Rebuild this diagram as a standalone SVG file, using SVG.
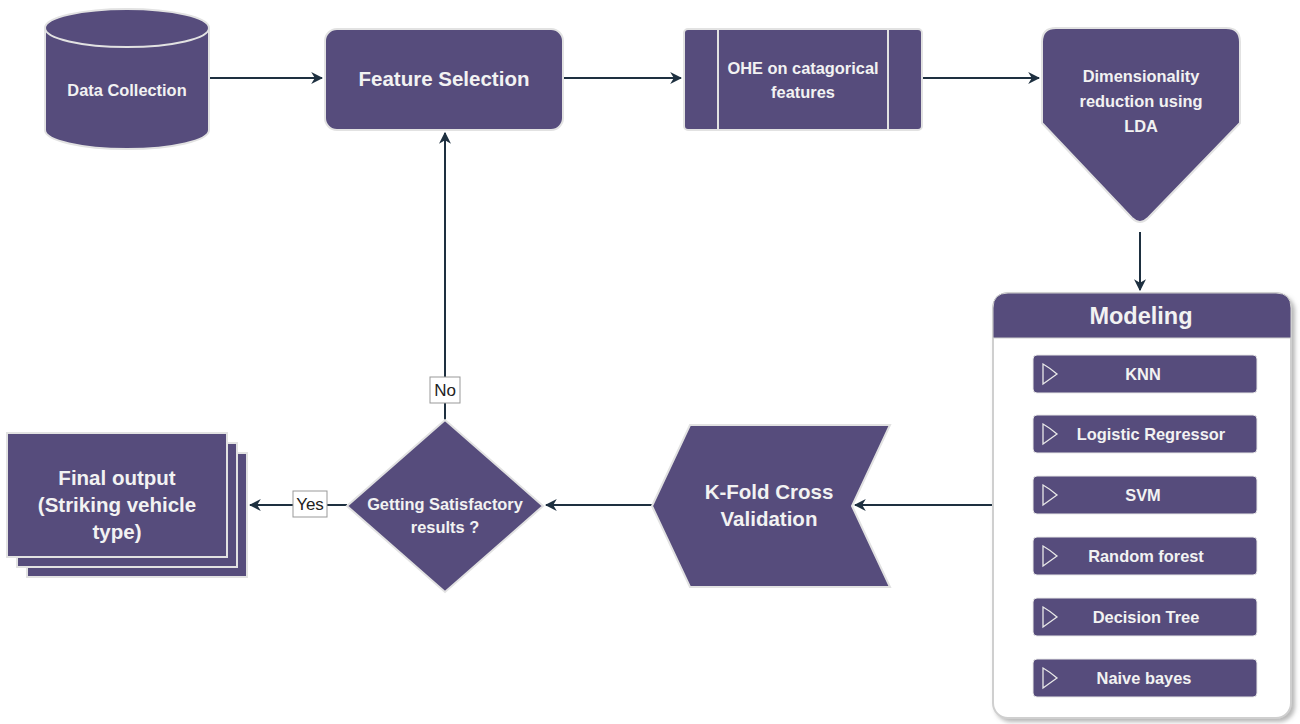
<svg xmlns="http://www.w3.org/2000/svg" width="1300" height="724" viewBox="0 0 1300 724">
<defs>
<style>
.n{fill:#564c7c;stroke:#e2e2e2;stroke-width:2}
.t{fill:#f2f2f2;font-family:"Liberation Sans",Arial,sans-serif;font-weight:bold;text-anchor:middle}
.s{font-size:16.4px}
.m{font-size:20.5px}
.c{stroke:#1e3040;stroke-width:2;fill:none}
.lbl{fill:#222;font-family:"Liberation Sans",Arial,sans-serif;font-size:17px;text-anchor:middle}
.item{fill:#564c7c;stroke:#e8e8e8;stroke-width:1}
.ic{fill:none;stroke:#e8e8e8;stroke-width:1.3}
</style>
<marker id="ah2" viewBox="0 0 10 10" refX="9" refY="5" markerWidth="12" markerHeight="12" orient="auto" markerUnits="userSpaceOnUse">
<path d="M0,0 L10,5 L0,10 L3,5 Z" fill="#1e3040"/>
</marker>
<filter id="sh" x="-10%" y="-10%" width="120%" height="120%">
<feDropShadow dx="3" dy="3" stdDeviation="2" flood-color="#888" flood-opacity="0.6"/>
</filter>
</defs>
<rect width="1300" height="724" fill="#ffffff"/>

<g id="connectors">
<line class="c" x1="210" y1="78" x2="322" y2="78" marker-end="url(#ah2)"/>
<line class="c" x1="564" y1="78" x2="681" y2="78" marker-end="url(#ah2)"/>
<line class="c" x1="923" y1="78" x2="1039" y2="78" marker-end="url(#ah2)"/>
<line class="c" x1="1140" y1="232" x2="1140" y2="290" marker-end="url(#ah2)"/>
<line class="c" x1="993" y1="505" x2="855" y2="505" marker-end="url(#ah2)"/>
<line class="c" x1="652" y1="505" x2="546" y2="505" marker-end="url(#ah2)"/>
<line class="c" x1="445" y1="420" x2="445" y2="133" marker-end="url(#ah2)"/>
<line class="c" x1="347" y1="505" x2="250" y2="505" marker-end="url(#ah2)"/>
<rect x="430" y="377" width="30" height="26" fill="#fff" stroke="#999" stroke-width="1"/>
<text class="lbl" x="445" y="396">No</text>
<rect x="293" y="491" width="34" height="26" fill="#fff" stroke="#999" stroke-width="1"/>
<text class="lbl" x="310" y="510">Yes</text>
</g>

<g id="data-collection">
<path class="n" d="M45,28 A82,19 0 0 1 209,28 L209,130 A82,19 0 0 1 45,130 Z"/>
<path d="M45,28 A82,19 0 0 0 209,28" fill="none" stroke="#e2e2e2" stroke-width="2"/>
<text class="t s" x="127" y="96">Data Collection</text>
</g>

<g id="feature-selection">
<rect class="n" x="325" y="29" width="238" height="101" rx="12"/>
<text class="t m" x="444" y="86">Feature Selection</text>
</g>

<g id="ohe">
<rect class="n" x="684" y="29" width="238" height="101" rx="4"/>
<line x1="718" y1="30" x2="718" y2="129" stroke="#e2e2e2" stroke-width="2"/>
<line x1="888" y1="30" x2="888" y2="129" stroke="#e2e2e2" stroke-width="2"/>
<text class="t s" x="803" y="74">OHE on catagorical</text>
<text class="t s" x="803" y="98">features</text>
</g>

<g id="lda">
<path class="n" d="M1056,28 L1226,28 Q1240,28 1240,42 L1240,123 L1148,218 Q1140,226 1132,218 L1042,123 L1042,42 Q1042,28 1056,28 Z"/>
<text class="t s" x="1141" y="82">Dimensionality</text>
<text class="t s" x="1141" y="107">reduction using</text>
<text class="t s" x="1141" y="132">LDA</text>
</g>

<g id="modeling">
<rect x="993" y="293" width="298" height="425" rx="15" fill="#fff" stroke="#cfcfcf" stroke-width="2" filter="url(#sh)"/>
<path d="M1008,293 L1276,293 Q1291,293 1291,308 L1291,338 L993,338 L993,308 Q993,293 1008,293 Z" fill="#564c7c" stroke="#cfcfcf" stroke-width="1"/>
<text class="t" x="1141" y="324" font-size="23.5px">Modeling</text>
<g id="knn">
<rect class="item" x="1033" y="355" width="224" height="38" rx="4"/>
<path class="ic" d="M1043,364 L1043,384 L1057,374 Q1050,368 1043,364 Z"/>
<text class="t s" x="1143" y="380">KNN</text>
</g>
<g id="logistic">
<rect class="item" x="1033" y="415" width="224" height="38" rx="4"/>
<path class="ic" d="M1043,424 L1043,444 L1057,434 Q1050,428 1043,424 Z"/>
<text class="t s" x="1151" y="440">Logistic Regressor</text>
</g>
<g id="svm">
<rect class="item" x="1033" y="476" width="224" height="38" rx="4"/>
<path class="ic" d="M1043,485 L1043,505 L1057,495 Q1050,489 1043,485 Z"/>
<text class="t s" x="1143" y="501">SVM</text>
</g>
<g id="rf">
<rect class="item" x="1033" y="537" width="224" height="38" rx="4"/>
<path class="ic" d="M1043,546 L1043,566 L1057,556 Q1050,550 1043,546 Z"/>
<text class="t s" x="1146" y="562">Random forest</text>
</g>
<g id="dt">
<rect class="item" x="1033" y="598" width="224" height="38" rx="4"/>
<path class="ic" d="M1043,607 L1043,627 L1057,617 Q1050,611 1043,607 Z"/>
<text class="t s" x="1146" y="623">Decision Tree</text>
</g>
<g id="nb">
<rect class="item" x="1033" y="659" width="224" height="38" rx="4"/>
<path class="ic" d="M1043,668 L1043,688 L1057,678 Q1050,672 1043,668 Z"/>
<text class="t s" x="1144" y="684">Naive bayes</text>
</g>
</g>

<g id="kfold">
<path class="n" d="M690,425 L890,425 L852,506 L890,587 L690,587 L652,506 Z"/>
<text class="t m" x="769" y="499">K-Fold Cross</text>
<text class="t m" x="769" y="526">Validation</text>
</g>

<g id="decision">
<path class="n" d="M445,420 L543,506 L445,592 L347,506 Z"/>
<text class="t s" x="445" y="510">Getting Satisfactory</text>
<text class="t s" x="445" y="533">results ?</text>
</g>

<g id="final-output">
<rect class="n" x="27" y="453" width="220" height="124"/>
<rect class="n" x="17" y="443" width="220" height="124"/>
<rect class="n" x="7" y="433" width="220" height="124"/>
<text class="t m" x="117" y="485">Final output</text>
<text class="t m" x="117" y="512">(Striking vehicle</text>
<text class="t m" x="117" y="539">type)</text>
</g>
</svg>
